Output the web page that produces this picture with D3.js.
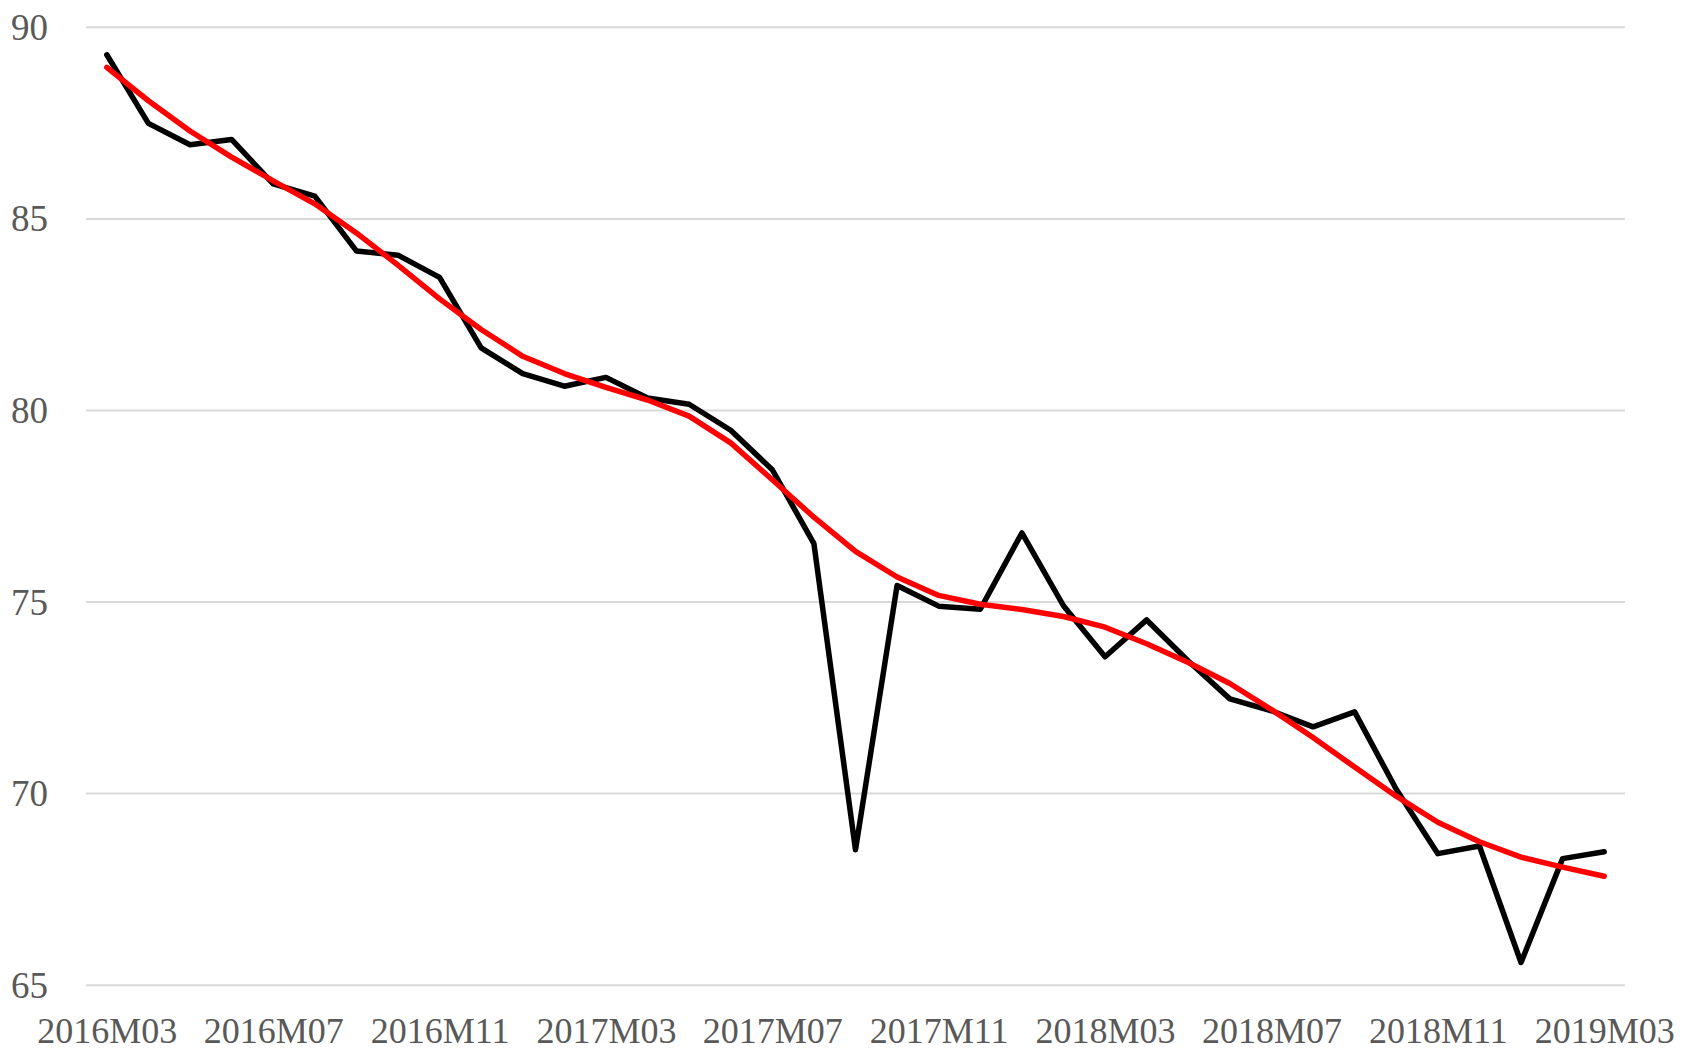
<!DOCTYPE html>
<html lang="en">
<head>
<meta charset="utf-8" />
<title>Monthly index with trend</title>
<script src="https://cdn.jsdelivr.net/npm/d3@7"></script>
<style>
  body { margin: 0; background: #fff; }
  .tick text { font-family: "Liberation Serif", "DejaVu Serif", serif; fill: #595959; }
</style>
</head>
<body>
<div id="chart"></div>
<script>

// months on the category axis
var months = ["2016M03","2016M04","2016M05","2016M06","2016M07","2016M08","2016M09","2016M10","2016M11","2016M12",
  "2017M01","2017M02","2017M03","2017M04","2017M05","2017M06","2017M07","2017M08","2017M09","2017M10","2017M11","2017M12",
  "2018M01","2018M02","2018M03","2018M04","2018M05","2018M06","2018M07","2018M08","2018M09","2018M10","2018M11","2018M12",
  "2019M01","2019M02","2019M03"];

// the raw series (black)
var actual = [89.27, 87.48, 86.92, 87.06, 85.90, 85.58, 84.15, 84.04, 83.46, 81.62,
  80.95, 80.62, 80.85, 80.31, 80.15, 79.47, 78.44, 76.51, 68.52, 75.42, 74.88,
  74.80, 76.79, 74.89, 73.56, 74.52, 73.45, 72.46, 72.15, 71.73, 72.12, 70.10,
  68.42, 68.62, 65.58, 68.29, 68.47];

// the trend (red)
var trend = [88.94, 88.07, 87.28, 86.60, 85.98, 85.38, 84.62, 83.78, 82.90, 82.10,
  81.40, 80.95, 80.59, 80.26, 79.84, 79.14, 78.18, 77.20, 76.31, 75.64, 75.16,
  74.93, 74.79, 74.61, 74.33, 73.90, 73.41, 72.86, 72.18, 71.45, 70.68, 69.92,
  69.24, 68.73, 68.33, 68.07, 67.83];

var yTicks = [65, 70, 75, 80, 85, 90];
var xTicks = ["2016M03","2016M07","2016M11","2017M03","2017M07","2017M11","2018M03","2018M07","2018M11","2019M03"];

var margin = {top: 26.8, right: 57, bottom: 66.3, left: 86},
    width = 1682 - margin.left - margin.right,
    height = 1051 - margin.top - margin.bottom;

var svg = d3.select("#chart")
  .append("svg")
    .attr("width", width + margin.left + margin.right)
    .attr("height", height + margin.top + margin.bottom)
    .style("display", "block")
  .append("g")
    .attr("transform", "translate(" + margin.left + "," + margin.top + ")");

// category axis, points in the middle of each slot
var x = d3.scalePoint()
  .domain(months)
  .range([0, width])
  .padding(0.5);

var y = d3.scaleLinear()
  .domain([65, 90])
  .range([height, 0]);

// y axis with gridlines
var yAxis = svg.append("g")
  .call(d3.axisLeft(y).tickValues(yTicks).tickSize(-width).tickPadding(38));
yAxis.select(".domain").remove();
yAxis.selectAll(".tick line")
  .attr("stroke", "#d9d9d9")
  .attr("stroke-width", 2);
yAxis.selectAll(".tick text")
  .style("font-size", "37px")
  .attr("dy", "0.34em");

// x axis labels every 4 months
var xAxis = svg.append("g")
  .attr("transform", "translate(0," + height + ")")
  .call(d3.axisBottom(x).tickValues(xTicks).tickSize(0));
xAxis.select(".domain").remove();
xAxis.selectAll(".tick text")
  .style("font-size", "36px")
  .attr("y", 58)
  .attr("dy", 0);

var line = function(values) {
  return d3.line()
    .x(function(d, i) { return x(months[i]); })
    .y(function(d) { return y(d); })(values);
};

// black line
svg.append("path")
  .attr("fill", "none")
  .attr("stroke", "#000000")
  .attr("stroke-width", 5.5)
  .attr("stroke-linejoin", "round")
  .attr("stroke-linecap", "round")
  .attr("d", line(actual));

// red trend on top
svg.append("path")
  .attr("fill", "none")
  .attr("stroke", "#ff0000")
  .attr("stroke-width", 5.5)
  .attr("stroke-linejoin", "round")
  .attr("stroke-linecap", "round")
  .attr("d", line(trend));

</script>
</body>
</html>
